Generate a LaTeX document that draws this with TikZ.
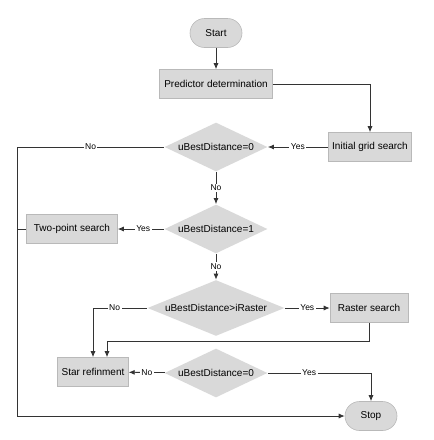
\documentclass[tikz,border=0pt]{standalone}
\usepackage{fontspec}
\setmainfont{Liberation Sans}
\usetikzlibrary{shapes.geometric,arrows.meta}

\begin{document}
\begin{tikzpicture}[
            x=1pt, y=-1pt,
            font=\fontsize{10}{12}\selectfont,
            line width=0.8pt,
            proc/.style={rectangle,draw=gray!55,fill=gray!30,line width=0.6pt,
                minimum height=29pt, inner sep=4pt},
            term/.style={proc,rounded corners=14.5pt,minimum width=#1},
            term/.default=52pt,
            cond/.style={diamond,draw=none,fill=gray!30,inner sep=0pt,aspect=2.1,
                minimum width=#1, minimum height=49pt},
            cond/.default=103pt,
            lbl/.style={fill=white,inner sep=1.5pt,font=\fontsize{8.5}{10}\selectfont},
            link/.style={draw=black!80,-{Latex[length=6pt,width=5pt]}}
        ]
        \useasboundingbox (0,0) rectangle (434,440);
        \node[term] (start) at (216,33) {Start};
        \node[proc,minimum width=113pt] (pred) at (216,84) {Predictor determination};
        \node[proc,minimum width=83pt] (grid) at (370,147) {Initial grid search};
        \node[cond] (zero) at (216,147) {uBestDistance=0};
        \node[cond] (one) at (216,229) {uBestDistance=1};
        \node[proc,minimum width=91pt] (twopt) at (72,229) {Two-point search};
        \node[cond=137pt] (raster) at (216,308) {uBestDistance>iRaster};
        \node[proc,minimum width=78pt] (rsearch) at (369,308) {Raster search};
        \node[proc,minimum width=70pt] (star) at (93,372) {Star refinment};
        \node[cond] (zeroagain) at (216,373) {uBestDistance=0};
        \node[term] (stop) at (371,416) {Stop};
        \coordinate (left) at (17,147);
        \coordinate (merge) at (107,341);

        \draw[link] (start) -- (pred);
        \draw[link] (pred) -| (grid);
        \draw[link] (grid) -- node[lbl] {Yes} (zero);
        \draw[link] (zero.west) -- node[lbl] {No} (left) |- (stop);
        \draw[link] (zero) -- node[lbl] {No} (one);
        \draw[link] (one) -- node[lbl,pos=0.45] {Yes} (twopt);
        \draw[draw=black!80] (twopt.west) -- (twopt.west -| left);
        \draw[link] (one) -- node[lbl] {No} (raster);
        \draw[link] (raster) -- node[lbl] {Yes} (rsearch);
        \draw[link] (raster.west) -| node[lbl,pos=0.3] {No} (star);
        \draw[link] (rsearch.south) |- (merge) -- (merge |- star.north);
        \draw[link] (zeroagain) -- node[lbl] {No} (star);
        \draw[link] (zeroagain.east) -| node[lbl,pos=0.2] {Yes} (stop);
    \end{tikzpicture}
\end{document}
